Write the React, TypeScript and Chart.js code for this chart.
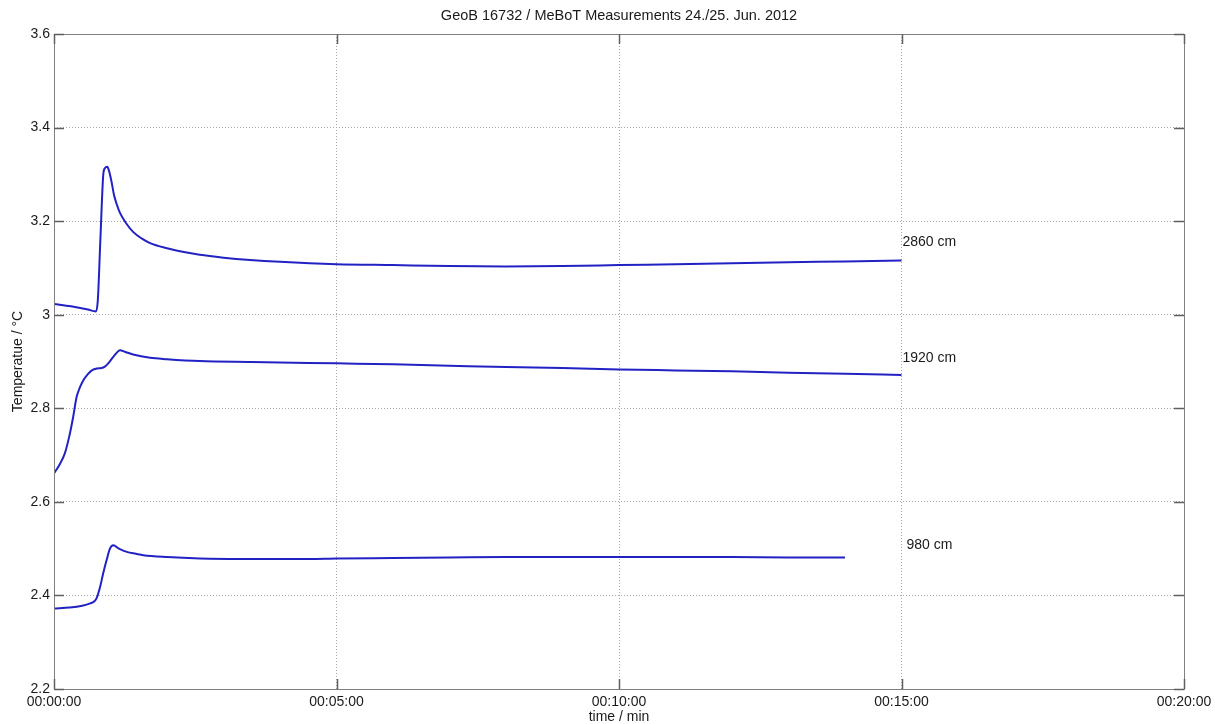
import React, { useEffect, useRef } from "react";
import { Chart, registerables } from "chart.js";

Chart.register(...registerables);

const TITLE = "GeoB 16732 / MeBoT Measurements 24./25. Jun. 2012";
const X_TITLE = "time / min";
const Y_TITLE = "Temperatue / °C";

const xTicks = [0, 5, 10, 15, 20];
const xTickLabels = ["00:00:00", "00:05:00", "00:10:00", "00:15:00", "00:20:00"];
const yTicks = [2.2, 2.4, 2.6, 2.8, 3.0, 3.2, 3.4, 3.6];
const yTickLabels = ["2.2", "2.4", "2.6", "2.8", "3", "3.2", "3.4", "3.6"];

const t2860 = [0, 0.3, 0.6, 0.74, 0.775, 0.823, 0.873, 0.9, 0.943, 0.98, 1.02, 1.06, 1.11, 1.17, 1.28, 1.4, 1.55, 1.7, 2.0, 2.3, 2.58, 3.0, 3.47, 4.0, 5.0, 6.0, 7.0, 8.0, 9.0, 10.0, 11.0, 12.0, 13.0, 14.0, 15.0];
const v2860 = [3.023, 3.018, 3.011, 3.007, 3.03, 3.167, 3.301, 3.313, 3.316, 3.305, 3.283, 3.257, 3.236, 3.217, 3.195, 3.177, 3.163, 3.153, 3.142, 3.134, 3.128, 3.122, 3.117, 3.113, 3.108, 3.106, 3.104, 3.103, 3.104, 3.106, 3.108, 3.11, 3.112, 3.114, 3.116];

const t1920 = [0, 0.1, 0.19, 0.27, 0.34, 0.4, 0.46, 0.52, 0.6, 0.67, 0.76, 0.84, 0.9, 0.96, 1.05, 1.17, 1.25, 1.4, 1.7, 2.0, 2.58, 3.5, 5, 6, 7, 8, 9, 10, 11, 12, 13, 14, 15];
const v1920 = [2.661, 2.68, 2.703, 2.74, 2.782, 2.824, 2.845, 2.86, 2.873, 2.881, 2.885, 2.886, 2.889, 2.896, 2.91, 2.924, 2.921, 2.915, 2.908, 2.905, 2.901, 2.899, 2.896, 2.894, 2.891, 2.888, 2.886, 2.883, 2.881, 2.879, 2.876, 2.874, 2.871];

const t980 = [0, 0.28, 0.5, 0.64, 0.72, 0.76, 0.82, 0.87, 0.93, 0.99, 1.05, 1.15, 1.29, 1.45, 1.58, 2.0, 2.58, 3.5, 4.5, 5, 6, 7, 8, 9, 10, 11, 12, 13, 14];
const v980 = [2.372, 2.374, 2.378, 2.383, 2.388, 2.396, 2.42, 2.447, 2.475, 2.5, 2.507, 2.5, 2.493, 2.489, 2.486, 2.482, 2.479, 2.478, 2.478, 2.479, 2.48, 2.481, 2.482, 2.482, 2.482, 2.482, 2.482, 2.481, 2.481];

const seriesNames = ["2860 cm", "1920 cm", "980 cm"];
const labelTimes = [15.0, 15.0, 15.07];
const labelTemps = [3.155, 2.907, 2.508];

const FONT_FAMILY = '"Liberation Sans", Arial, sans-serif';
const LINE_COLOR = "#2222c4";

function pts(t: number[], v: number[]) {
  return t.map((x, i) => ({ x, y: v[i] }));
}

const overlay = {
  id: "overlay",
  afterDraw(chart: any) {
    const { ctx, chartArea, scales } = chart;
    const { left, right, top, bottom } = chartArea;
    const x = scales.x;
    const y = scales.y;
    ctx.save();
    // box
    ctx.strokeStyle = "#808080";
    ctx.lineWidth = 1;
    ctx.strokeRect(Math.round(left) + 0.5, Math.round(top) + 0.5, Math.round(right - left), Math.round(bottom - top));
    // inward ticks
    ctx.strokeStyle = "#606060";
    ctx.lineWidth = 1.5;
    const TL = 10;
    ctx.beginPath();
    xTicks.forEach((v) => {
      const px = Math.round(x.getPixelForValue(v)) + 0.5;
      ctx.moveTo(px, bottom);
      ctx.lineTo(px, bottom - TL);
      ctx.moveTo(px, top);
      ctx.lineTo(px, top + TL);
    });
    yTicks.forEach((v) => {
      const py = Math.round(y.getPixelForValue(v)) + 0.5;
      ctx.moveTo(left, py);
      ctx.lineTo(left + TL, py);
      ctx.moveTo(right, py);
      ctx.lineTo(right - TL, py);
    });
    ctx.stroke();
    // texts
    ctx.fillStyle = "#1a1a1a";
    ctx.font = `14px ${FONT_FAMILY}`;
    ctx.textBaseline = "middle";
    // y tick labels
    ctx.textAlign = "right";
    yTicks.forEach((v, i) => {
      ctx.fillText(yTickLabels[i], left - 4, y.getPixelForValue(v));
    });
    // x tick labels
    ctx.textAlign = "center";
    xTicks.forEach((v, i) => {
      ctx.fillText(xTickLabels[i], x.getPixelForValue(v), 702);
    });
    ctx.fillText(X_TITLE, (left + right) / 2, 717);
    ctx.save();
    ctx.translate(18, (top + bottom) / 2);
    ctx.rotate(-Math.PI / 2);
    ctx.fillText(Y_TITLE, 0, 0);
    ctx.restore();
    ctx.font = `14.5px ${FONT_FAMILY}`;
    ctx.fillText(TITLE, (left + right) / 2, 16);
    ctx.font = `14px ${FONT_FAMILY}`;
    ctx.textAlign = "left";
    seriesNames.forEach((name, i) => {
      ctx.fillText(name, x.getPixelForValue(labelTimes[i]) + 1, y.getPixelForValue(labelTemps[i]));
    });
    ctx.restore();
  },
};

export default function App() {
  const ref = useRef<HTMLCanvasElement>(null);
  useEffect(() => {
    if (!ref.current) return;
    const ds = (t: number[], v: number[], label: string) => ({
      label,
      data: pts(t, v),
      borderColor: LINE_COLOR,
      borderWidth: 2,
      pointRadius: 0,
      fill: false,
      cubicInterpolationMode: "monotone" as const,
    });
    const chart = new Chart(ref.current, {
      type: "line",
      data: {
        datasets: [
          ds(t2860, v2860, seriesNames[0]),
          ds(t1920, v1920, seriesNames[1]),
          ds(t980, v980, seriesNames[2]),
        ],
      },
      options: {
        animation: false,
        responsive: false,
        devicePixelRatio: 1,
        parsing: false as any,
        layout: { padding: { left: 54, top: 34, right: 31, bottom: 0 } },
        plugins: { legend: { display: false }, tooltip: { enabled: false }, title: { display: false } },
        scales: {
          x: {
            type: "linear",
            min: 0,
            max: 20,
            afterFit: (s: any) => {
              s.height = 35;
            },
            afterBuildTicks: (s: any) => {
              s.ticks = xTicks.map((v) => ({ value: v }));
            },
            ticks: { display: false, autoSkip: false },
            grid: { drawTicks: false, color: "#a8a8a8", lineWidth: 1 },
            border: { display: false, dash: [1, 2] },
          },
          y: {
            type: "linear",
            min: 2.2,
            max: 3.6,
            afterFit: (s: any) => {
              s.width = 0;
            },
            afterBuildTicks: (s: any) => {
              s.ticks = yTicks.map((v) => ({ value: v }));
            },
            ticks: { display: false, autoSkip: false },
            grid: { drawTicks: false, color: "#a8a8a8", lineWidth: 1 },
            border: { display: false, dash: [1, 2] },
          },
        },
      },
      plugins: [overlay],
    });
    return () => chart.destroy();
  }, []);
  return (
    <div style={{ position: "absolute", left: 0, top: 0, width: 1215, height: 724, background: "#fff" }}>
      <canvas ref={ref} width={1215} height={724} style={{ width: 1215, height: 724 }} />
    </div>
  );
}
